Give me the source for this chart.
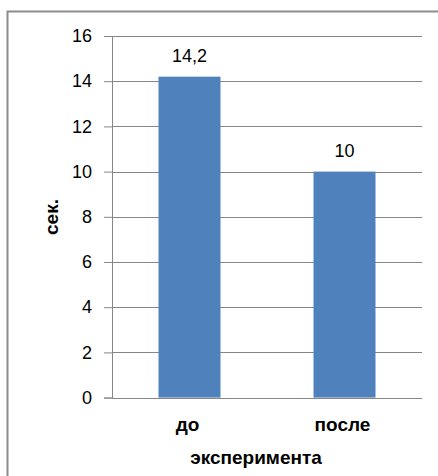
<!DOCTYPE html>
<html>
<head>
<meta charset="utf-8">
<script src="https://cdn.jsdelivr.net/npm/d3@7"></script>
<style>
  body { margin: 0; background: #fff; }
  text { font-family: "Liberation Sans", Arial, sans-serif; }
</style>
</head>
<body>
<div id="chart"></div>
<script>
// data
var categories = ['до', 'после'];
var values = [14.2, 10];
var value_labels = ['14,2', '10'];
var y_ticks = [0, 2, 4, 6, 8, 10, 12, 14, 16];
var x_title = 'эксперимента';
var y_title = 'сек.';

var chart_width = 438;
var chart_height = 476;
var margin = { left: 112, right: 16, top: 36, bottom: 78 };

var svg = d3
  .select('#chart')
  .append('svg')
  .attr('width', chart_width)
  .attr('height', chart_height);

// outer frame (right/bottom edges fall outside the picture)
svg
  .append('rect')
  .attr('x', 7.5)
  .attr('y', 11.5)
  .attr('width', 440)
  .attr('height', 480)
  .attr('fill', '#fff')
  .attr('stroke', '#8c8c8c')
  .attr('stroke-width', 2);

var x_scale = d3
  .scaleBand()
  .domain(categories)
  .range([margin.left, 422])
  .paddingInner(0.6)
  .paddingOuter(0.3);

var y_scale = d3
  .scaleLinear()
  .domain([0, 16])
  .range([397.6, margin.top]);

// gridlines + y axis
var y_axis = d3
  .axisLeft(y_scale)
  .tickValues(y_ticks)
  .tickSize(8)
  .tickPadding(12)
  .tickFormat(d3.format('d'));

var gy = svg
  .append('g')
  .attr('transform', 'translate(' + margin.left + ',0)')
  .call(y_axis);
gy.select('.domain').attr('stroke', '#868686');
gy.selectAll('.tick line').attr('stroke', '#868686');
gy.selectAll('.tick text')
  .attr('font-size', 18)
  .attr('fill', '#000')
  .style('font-family', '"Liberation Sans", Arial, sans-serif');

svg
  .append('g')
  .selectAll('line')
  .data(y_ticks)
  .enter()
  .append('line')
  .attr('x1', margin.left)
  .attr('x2', 422)
  .attr('y1', function(d) { return Math.round(y_scale(d)) + 0.5; })
  .attr('y2', function(d) { return Math.round(y_scale(d)) + 0.5; })
  .attr('stroke', '#868686');

// bars
svg
  .selectAll('rect.bar')
  .data(values)
  .enter()
  .append('rect')
  .attr('class', 'bar')
  .attr('x', function(d, i) { return x_scale(categories[i]); })
  .attr('y', function(d) { return y_scale(d); })
  .attr('width', x_scale.bandwidth())
  .attr('height', function(d) { return y_scale(0) - y_scale(d); })
  .attr('fill', '#4F81BD');

// value labels
svg
  .selectAll('text.val')
  .data(values)
  .enter()
  .append('text')
  .attr('class', 'val')
  .text(function(d, i) { return value_labels[i]; })
  .attr('x', function(d, i) { return x_scale(categories[i]) + x_scale.bandwidth() / 2; })
  .attr('y', function(d) { return y_scale(d) - 15; })
  .attr('font-size', 18)
  .attr('text-anchor', 'middle');

// category labels
svg
  .selectAll('text.cat')
  .data(categories)
  .enter()
  .append('text')
  .attr('class', 'cat')
  .text(function(d) { return d; })
  .attr('x', function(d) { return x_scale(d) + x_scale.bandwidth() / 2 - 2; })
  .attr('y', 431)
  .attr('font-size', 19)
  .attr('font-weight', 'bold')
  .attr('text-anchor', 'middle');

// axis titles
svg
  .append('text')
  .text(x_title)
  .attr('x', 256)
  .attr('y', 464)
  .attr('font-size', 19)
  .attr('font-weight', 'bold')
  .attr('text-anchor', 'middle');

svg
  .append('text')
  .text(y_title)
  .attr('transform', 'translate(58,217) rotate(-90)')
  .attr('font-size', 19)
  .attr('font-weight', 'bold')
  .attr('text-anchor', 'middle');
</script>
</body>
</html>
